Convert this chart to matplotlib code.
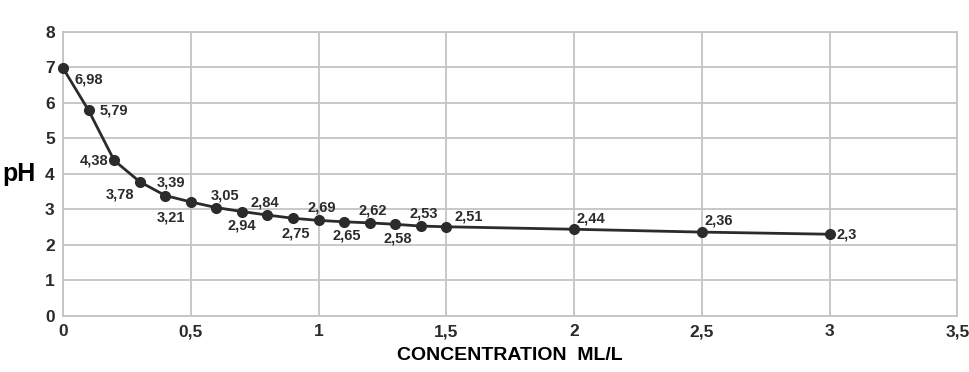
import matplotlib.pyplot as plt

plt.rcParams["font.family"] = ["Liberation Sans", "DejaVu Sans"]
plt.rcParams["font.weight"] = "bold"

conc = [0, 0.1, 0.2, 0.3, 0.4, 0.5, 0.6, 0.7, 0.8, 0.9, 1.0, 1.1, 1.2, 1.3, 1.4, 1.5, 2.0, 2.5, 3.0]
ph = [6.98, 5.79, 4.38, 3.78, 3.39, 3.21, 3.05, 2.94, 2.84, 2.75, 2.69, 2.65, 2.62, 2.58, 2.53, 2.51, 2.44, 2.36, 2.3]
# label placement per point: (dx, dy, ha, va) in points
place = [(8, -3, "left", "top"), (8, 0, "left", "center"), (-4, 0, "right", "center"),
         (-4, -4, "right", "top"), (-6, 4, "left", "bottom"), (-4, -6, "right", "top"),
         (-4, 4, "left", "bottom"), (0, -5, "center", "top"), (-2, 4, "center", "bottom"),
         (2, -6, "center", "top"), (2, 4, "center", "bottom"), (2, -5, "center", "top"),
         (2, 4, "center", "bottom"), (2, -5, "center", "top"), (2, 4, "center", "bottom"),
         (6, 2, "left", "bottom"), (2, 3, "left", "bottom"), (2, 3, "left", "bottom"),
         (5, 0, "left", "center")]

dark = "#2b2b2b"
fig = plt.figure(figsize=(9.7, 3.72), dpi=100)
ax = fig.add_axes([0.065, 0.151, 0.922, 0.763])

ax.plot(conc, ph, color=dark, lw=2, marker="o", ms=7, zorder=3, clip_on=False)
for x, y, (dx, dy, ha, va) in zip(conc, ph, place):
    ax.annotate(f"{y:g}".replace(".", ","), (x, y), xytext=(dx, dy), textcoords="offset points",
                ha=ha, va=va, fontsize=10.5, color=dark, fontweight="bold")

ax.set_xlim(0, 3.5)
ax.set_ylim(0, 8)
xt = [0, 0.5, 1, 1.5, 2, 2.5, 3, 3.5]
ax.set_xticks(xt)
ax.set_xticklabels([f"{v:g}".replace(".", ",") for v in xt])
ax.set_yticks(range(0, 9))
ax.tick_params(length=0, labelsize=12.5, colors=dark, pad=6)
ax.grid(True, color="#c4c4c4", lw=1.3)
ax.set_axisbelow(True)
for s in ax.spines.values():
    s.set_color("#c4c4c4")
    s.set_linewidth(1.3)
ax.set_xlabel("CONCENTRATION  ML/L", fontsize=14, color="black", fontweight="bold", labelpad=6)
ax.set_ylabel("pH", fontsize=18, color="black", fontweight="bold", rotation=0, labelpad=19, va="center")

fig.savefig("out.png", dpi=100)
